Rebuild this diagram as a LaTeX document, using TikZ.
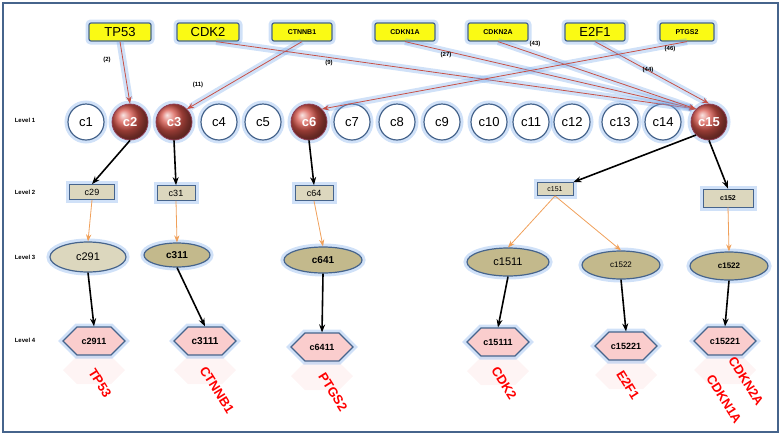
\documentclass[tikz,border=0pt]{standalone}
\usepackage{fontspec}
\setmainfont{Liberation Sans}
\usetikzlibrary{shapes.geometric,shapes.symbols,arrows.meta}
\definecolor{glowc}{RGB}{120,170,235}
\definecolor{frame}{RGB}{70,100,140}
\definecolor{gene}{RGB}{250,250,20}
\definecolor{tan1}{RGB}{220,215,190}
\definecolor{tan2}{RGB}{195,185,140}
\definecolor{pinkc}{RGB}{250,205,205}
\definecolor{redarr}{RGB}{200,80,70}
\definecolor{orarr}{RGB}{240,160,90}
\definecolor{ballred}{RGB}{215,85,75}
\tikzset{
 x=1pt,y=-1pt,
 glow/.style={preaction={draw=glowc,line width=7pt,opacity=0.35}},
 genebox/.style={glow,draw=frame,very thick,fill=gene,rounded corners=2pt,minimum height=18pt,inner sep=1pt},
 wcirc/.style={glow,circle,draw=frame,very thick,fill=white,minimum size=36pt,inner sep=0pt,font=\fontsize{13}{13}\selectfont},
 rcirc/.style={glow,circle,draw=frame!60!red,thick,shading=ball,ball color=ballred,minimum size=36pt,inner sep=0pt,text=white,font=\bfseries\fontsize{13}{13}\selectfont},
 l2box/.style={glow,draw=frame,thick,fill=tan1,minimum height=15pt,inner sep=1pt,font=\fontsize{9}{9}\selectfont},
 l3ell/.style={glow,ellipse,draw=frame,very thick,fill=tan2,inner sep=0pt,font=\fontsize{11}{11}\selectfont},
 hexa/.style={glow,signal,signal to=west and east,draw=frame,very thick,fill=pinkc,minimum width=62pt,minimum height=28pt,inner sep=2pt,font=\bfseries\fontsize{9}{9}\selectfont},
 refl/.style={signal,signal to=west and east,fill=pinkc!35,minimum width=62pt,minimum height=28pt,opacity=0.6},
 lvl/.style={font=\bfseries\fontsize{6}{6}\selectfont},
 cnt/.style={font=\bfseries\fontsize{6}{6}\selectfont},
 redlab/.style={text=red,font=\bfseries\fontsize{13}{13}\selectfont,rotate=-58},
 rarr/.style={draw=redarr,thick,glow,-{Stealth[length=7pt]}},
 barr/.style={draw=black,line width=1.6pt,-{Stealth[length=8pt]}},
 oarr/.style={draw=orarr,thick,-{Stealth[length=7pt]}}
}
\begin{document}
\begin{tikzpicture}
\useasboundingbox (0,0) rectangle (783,437);
\draw[frame,line width=1.5pt] (3,3) rectangle (778,432);
% reflections
\foreach \x/\y in {94/370,205/370,322/376,498/371,626/375,725/370}{\node[refl] at (\x,\y) {};}
% genes
\node[genebox,minimum width=62pt,font=\fontsize{13}{13}\selectfont] (TP53) at (120,32) {TP53};
\node[genebox,minimum width=62pt,font=\fontsize{13}{13}\selectfont] (CDK2) at (208,32) {CDK2};
\node[genebox,minimum width=60pt,font=\bfseries\fontsize{7}{7}\selectfont] (CTNNB1) at (302,32) {CTNNB1};
\node[genebox,minimum width=60pt,font=\bfseries\fontsize{7}{7}\selectfont] (CDKN1A) at (405,32) {CDKN1A};
\node[genebox,minimum width=60pt,font=\bfseries\fontsize{7}{7}\selectfont] (CDKN2A) at (498,32) {CDKN2A};
\node[genebox,minimum width=60pt,font=\fontsize{13}{13}\selectfont] (E2F1) at (595,32) {E2F1};
\node[genebox,minimum width=54pt,font=\bfseries\fontsize{7}{7}\selectfont] (PTGS2) at (687,32) {PTGS2};
% level labels
\node[lvl] (L1) at (25,120) {Level 1};
\node[lvl] (L2) at (25,192) {Level 2};
\node[lvl] (L3) at (25,257) {Level 3};
\node[lvl] (L4) at (25,340) {Level 4};
% level 1
\foreach \n/\x in {1/86,4/219,5/263,7/352,8/397,9/442,10/489,11/531,12/572,13/620,14/663}{\node[wcirc] (c\n) at (\x,122) {c\n};}
\node[rcirc] (c2) at (130,122) {c2};
\node[rcirc] (c3) at (174,122) {c3};
\node[rcirc] (c6) at (309,122) {c6};
\node[rcirc] (c15) at (709,122) {c15};
% red arrows
\draw[rarr] (TP53.south) -- (c2.north);
\draw[rarr] (CTNNB1.south) -- (c3.north east);
\draw[rarr] ([xshift=8pt]CDK2.south) -- (c15.north west);
\draw[rarr] (CDKN1A.south) -- (c15.north west);
\draw[rarr] (CDKN2A.south) -- (c15.north west);
\draw[rarr] (E2F1.south) -- (c15.north);
\draw[rarr] (PTGS2.south) -- (c6.north east);
\node[cnt] (n2) at (107,60) {(2)};
\node[cnt] (n11) at (198,85) {(11)};
\node[cnt] (n9) at (329,63) {(9)};
\node[cnt] (n27) at (446,55) {(27)};
\node[cnt] (n43) at (535,44) {(43)};
\node[cnt] (n46) at (670,49) {(46)};
\node[cnt] (n44) at (648,70) {(44)};
% level 2
\node[l2box,minimum width=45pt] (c29) at (92,192) {c29};
\node[l2box,minimum width=38pt] (c31) at (176,193) {c31};
\node[l2box,minimum width=38pt] (c64) at (314,193) {c64};
\node[l2box,minimum width=36pt,minimum height=13pt,font=\fontsize{7}{7}\selectfont] (c151) at (555,189) {c151};
\node[l2box,minimum width=50pt,minimum height=18pt,font=\bfseries\fontsize{7}{7}\selectfont] (c152) at (728,198) {c152};
\draw[barr] (c2.south) -- (c29.north);
\draw[barr] (c3.south) -- (c31.north);
\draw[barr] (c6.south) -- (c64.north);
\draw[barr] (c15.south west) -- (c151.north east);
\draw[barr] (c15.south) -- (c152.north);
% level 3
\node[l3ell,fill=tan1,minimum width=76pt,minimum height=30pt] (c291) at (88,257) {c291};
\node[l3ell,minimum width=66pt,minimum height=24pt,font=\bfseries\fontsize{10}{10}\selectfont] (c311) at (177,255) {c311};
\node[l3ell,minimum width=78pt,minimum height=26pt,font=\bfseries\fontsize{10}{10}\selectfont] (c641) at (323,260) {c641};
\node[l3ell,minimum width=82pt,minimum height=28pt] (c1511) at (508,262) {c1511};
\node[l3ell,minimum width=78pt,minimum height=28pt,font=\fontsize{8}{8}\selectfont] (c1522a) at (621,265) {c1522};
\node[l3ell,minimum width=78pt,minimum height=28pt,font=\bfseries\fontsize{8}{8}\selectfont] (c1522b) at (729,266) {c1522};
\draw[oarr] (c29.south) -- (c291.north);
\draw[oarr] (c31.south) -- (c311.north);
\draw[oarr] (c64.south) -- (c641.north);
\draw[oarr] (c151.south) -- (c1511.north);
\draw[oarr] (c151.south) -- (c1522a.north);
\draw[oarr] (c152.south) -- (c1522b.north);
% level 4
\node[hexa] (c2911) at (94,341) {c2911};
\node[hexa,font=\bfseries\fontsize{10}{10}\selectfont] (c3111) at (205,341) {c3111};
\node[hexa] (c6411) at (322,347) {c6411};
\node[hexa] (c15111) at (498,342) {c15111};
\node[hexa] (c15221a) at (626,346) {c15221};
\node[hexa] (c15221b) at (725,341) {c15221};
\draw[barr] (c291.south) -- (c2911.north);
\draw[barr] (c311.south) -- (c3111.north);
\draw[barr] (c641.south) -- (c6411.north);
\draw[barr] (c1511.south) -- (c15111.north);
\draw[barr] (c1522a.south) -- (c15221a.north);
\draw[barr] (c1522b.south) -- (c15221b.north);
% red labels
\node[redlab] (g1) at (100,383) {TP53};
\node[redlab] (g2) at (217,390) {CTNNB1};
\node[redlab] (g3) at (333,392) {PTGS2};
\node[redlab] (g4) at (504,383) {CDK2};
\node[redlab] (g5) at (628,385) {E2F1};
\node[redlab] (g6) at (746,381) {CDKN2A};
\node[redlab] (g7) at (724,399) {CDKN1A};
\end{tikzpicture}
\end{document}
